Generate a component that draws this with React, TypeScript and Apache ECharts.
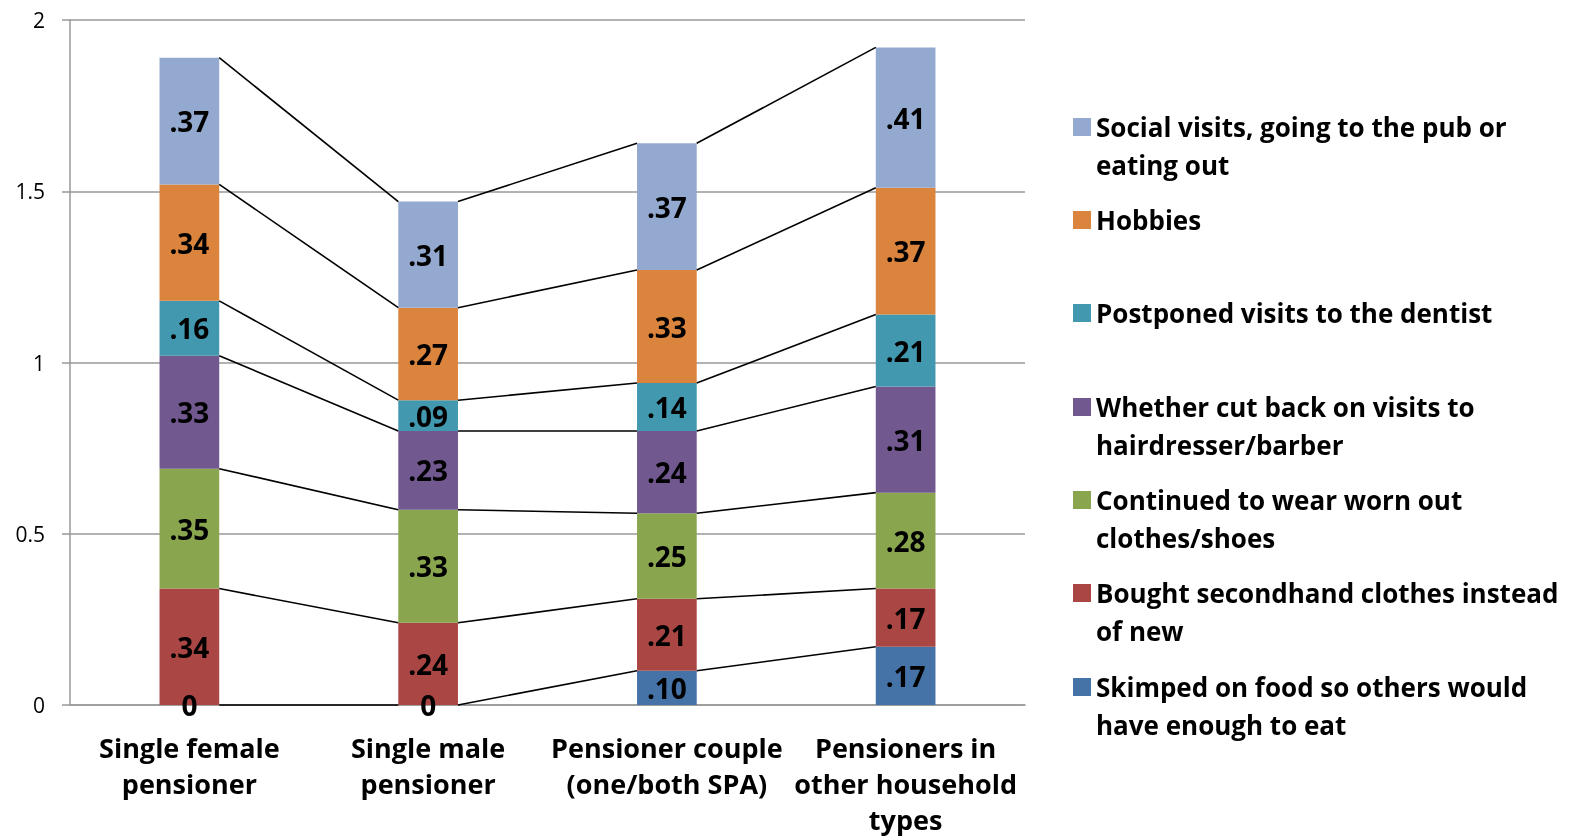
import React, { useEffect, useRef } from "react";
import * as echarts from "echarts";

const categories = [
  "Single female\npensioner",
  "Single male\npensioner",
  "Pensioner couple\n(one/both SPA)",
  "Pensioners in\nother household\ntypes",
];

const skimped = [0, 0, 0.1, 0.17];
const secondhand = [0.34, 0.24, 0.21, 0.17];
const wornOut = [0.35, 0.33, 0.25, 0.28];
const hairdresser = [0.33, 0.23, 0.24, 0.31];
const dentist = [0.16, 0.09, 0.14, 0.21];
const hobbies = [0.34, 0.27, 0.33, 0.37];
const social = [0.37, 0.31, 0.37, 0.41];

const yTicks = [0, 0.5, 1, 1.5, 2];

// stacking order bottom -> top
const seriesDefs = [
  { lines: ["Skimped on food so others would", "have enough to eat"], data: skimped, color: "#4572A7" },
  { lines: ["Bought secondhand clothes instead", "of new"], data: secondhand, color: "#AA4643" },
  { lines: ["Continued to wear worn out", "clothes/shoes"], data: wornOut, color: "#89A54E" },
  { lines: ["Whether cut back on visits to", "hairdresser/barber"], data: hairdresser, color: "#71588F" },
  { lines: ["Postponed visits to the dentist"], data: dentist, color: "#4198AF" },
  { lines: ["Hobbies"], data: hobbies, color: "#DB843D" },
  { lines: ["Social visits, going to the pub or", "eating out"], data: social, color: "#93A9CF" },
];

// legend rows top -> bottom (icon centre y)
const legendCentres = [127, 220, 313, 407, 500, 593, 687];

const FONT = "Open Sans";

export default function App() {
  const ref = useRef<HTMLDivElement>(null);

  useEffect(() => {
    if (!ref.current) return;
    const chart = echarts.init(ref.current, null, { renderer: "svg" });

    const barSeries = seriesDefs.map((s) => ({
      name: s.lines.join(" "),
      type: "bar",
      stack: "total",
      barWidth: "25%",
      data: s.data,
      itemStyle: { color: s.color },
      label: {
        show: true,
        position: "inside",
        color: "#000",
        fontFamily: FONT,
        fontWeight: "bold",
        fontSize: 28,
        formatter: (p: any) =>
          p.value === 0 ? "0" : Number(p.value).toFixed(2).replace(/^0/, ""),
      },
    }));

    // cumulative tops for series lines
    const cum: number[][] = [];
    const running = categories.map(() => 0);
    seriesDefs.forEach((s) => {
      s.data.forEach((v, i) => (running[i] += v));
      cum.push(running.slice());
    });
    const lineData: number[][] = [];
    for (let i = 0; i < categories.length - 1; i++) {
      cum.forEach((level) => lineData.push([i, level[i], level[i + 1]]));
    }

    const lineSeries = {
      type: "custom",
      name: "series lines",
      clip: false,
      silent: true,
      encode: { x: 0, y: 1 },
      data: lineData,
      z: 5,
      renderItem: (params: any, api: any) => {
        const i = api.value(0);
        const p1 = api.coord([i, api.value(1)]);
        const p2 = api.coord([i + 1, api.value(2)]);
        const hw = (api.size([1, 0])[0] * 0.25) / 2;
        return {
          type: "line",
          shape: { x1: p1[0] + hw, y1: p1[1], x2: p2[0] - hw, y2: p2[1] },
          style: { stroke: "#000", lineWidth: 1.6 },
        };
      },
    };

    const legendOrder = seriesDefs.slice().reverse();
    const legends = legendOrder.map((s, k) => ({
      show: true,
      orient: "vertical",
      left: 1073,
      top: legendCentres[k] - 13,
      padding: 0,
      itemWidth: 18,
      itemHeight: 18,
      itemGap: 5,
      icon: "rect",
      data: [s.lines.join(" ")],
      formatter: () => s.lines[0],
      selectedMode: false,
      textStyle: {
        fontFamily: FONT,
        fontWeight: "bold",
        fontSize: 26,
        lineHeight: 18,
        color: "#000",
      },
    }));

    const graphics: any[] = [];
    legendOrder.forEach((s, k) => {
      if (s.lines.length > 1) {
        graphics.push({
          type: "text",
          x: 1096,
          y: legendCentres[k] + 38,
          style: {
            text: s.lines[1],
            fontFamily: FONT,
            fontWeight: "bold",
            fontSize: 26,
            fill: "#000",
            verticalAlign: "middle",
          },
        });
      }
    });

    chart.setOption({
      animation: false,
      textStyle: { fontFamily: FONT },
      grid: {
        left: 70,
        right: 547,
        top: 20,
        bottom: 134,
        containLabel: false,
        outerBoundsMode: "none",
      },
      legend: legends,
      graphic: graphics,
      xAxis: {
        type: "category",
        data: categories,
        axisLine: { show: true, lineStyle: { color: "#999", width: 1.5 } },
        axisTick: { show: false },
        axisLabel: {
          interval: 0,
          margin: 24,
          color: "#000",
          fontFamily: FONT,
          fontWeight: "bold",
          fontSize: 27,
          lineHeight: 36,
        },
      },
      yAxis: {
        type: "value",
        min: 0,
        max: 2,
        interval: 0.5,
        axisLine: { show: true, lineStyle: { color: "#999", width: 1.5 } },
        axisTick: { show: true, length: 8, lineStyle: { color: "#999", width: 1.5 } },
        axisLabel: {
          margin: 25,
          color: "#000",
          fontFamily: FONT,
          fontSize: 21,
          formatter: (v: number) => (yTicks.includes(v) ? String(v) : ""),
        },
        splitLine: { show: true, lineStyle: { color: "#999", width: 1.5 } },
      },
      series: [...barSeries, lineSeries],
    });

    return () => chart.dispose();
  }, []);

  return (
    <div
      ref={ref}
      style={{ position: "fixed", left: 0, top: 0, width: 1572, height: 839 }}
    />
  );
}
